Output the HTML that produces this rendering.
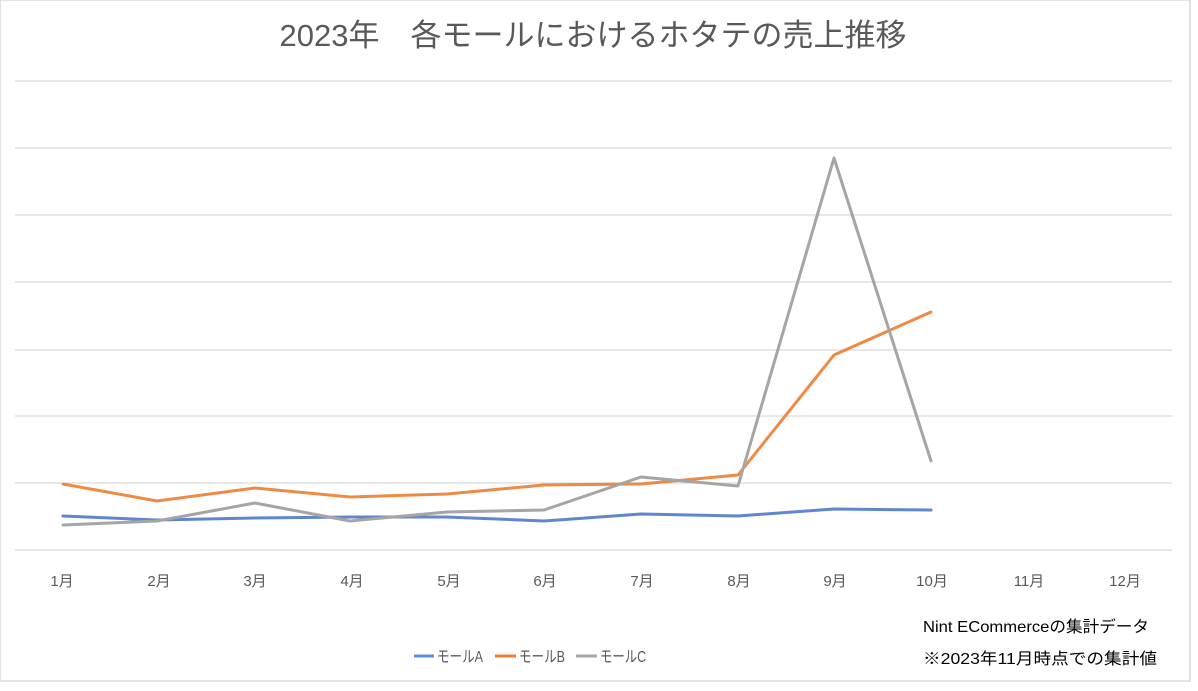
<!DOCTYPE html>
<html><head><meta charset="utf-8"><style>
body{margin:0;background:#fff;width:1198px;height:686px;overflow:hidden}
text{font-family:"Liberation Sans","Noto Sans CJK JP",sans-serif}
</style></head><body>
<svg width="1198" height="686" xmlns="http://www.w3.org/2000/svg">
<rect x="0" y="0" width="1190" height="681" fill="#fff" stroke="#d9d9d9" stroke-width="1.5"/>
<text x="593" y="46" text-anchor="middle" font-size="31" fill="#595959">2023年　各モールにおけるホタテの売上推移</text>
<g stroke="#d9d9d9" stroke-width="1.2">
<line x1="15" x2="1172" y1="81" y2="81"/><line x1="15" x2="1172" y1="148" y2="148"/>
<line x1="15" x2="1172" y1="215" y2="215"/><line x1="15" x2="1172" y1="282" y2="282"/>
<line x1="15" x2="1172" y1="350" y2="350"/><line x1="15" x2="1172" y1="416" y2="416"/>
<line x1="15" x2="1172" y1="483" y2="483"/><line x1="15" x2="1172" y1="550" y2="550"/>
</g>
<g font-size="15" fill="#595959" text-anchor="middle">
<text x="62" y="586">1月</text><text x="159" y="586">2月</text><text x="255" y="586">3月</text><text x="352" y="586">4月</text><text x="449" y="586">5月</text><text x="545" y="586">6月</text><text x="642" y="586">7月</text><text x="739" y="586">8月</text><text x="835" y="586">9月</text><text x="932" y="586">10月</text><text x="1029" y="586">11月</text><text x="1125" y="586">12月</text>
</g>
<g fill="none" stroke-width="3" stroke-linejoin="round" stroke-linecap="round">
<polyline stroke="#4472c4" stroke-opacity="0.85" points="63,516 157,520 255,518 350,517 447,517 544,521 641,514 738,516 834,509 931,510"/>
<polyline stroke="#ed7d31" stroke-opacity="0.9" points="63,484 157,501 255,488 350,497 447,494 544,485 641,484 738,475 834,355 931,312"/>
<polyline stroke="#a5a5a5" points="63,525 157,521 255,503 350,521 447,512 544,510 641,477 738,486 834,158 931,461"/>
</g>
<g stroke-width="3">
<line x1="414" x2="434" y1="656" y2="656" stroke="#5b8fd6"/>
<line x1="495" x2="516" y1="656" y2="656" stroke="#ed7d31"/>
<line x1="576" x2="597" y1="656" y2="656" stroke="#a5a5a5"/>
</g>
<g font-size="16" fill="#595959">
<text x="437" y="662" textLength="46" lengthAdjust="spacingAndGlyphs">モールA</text><text x="519" y="662" textLength="46" lengthAdjust="spacingAndGlyphs">モールB</text><text x="600" y="662" textLength="46" lengthAdjust="spacingAndGlyphs">モールC</text>
</g>
<g font-size="16" fill="#000">
<text x="923" y="632" textLength="226" lengthAdjust="spacingAndGlyphs">Nint ECommerceの集計データ</text>
<text x="923" y="664" textLength="234" lengthAdjust="spacingAndGlyphs">※2023年11月時点での集計値</text>
</g>
</svg>
</body></html>
